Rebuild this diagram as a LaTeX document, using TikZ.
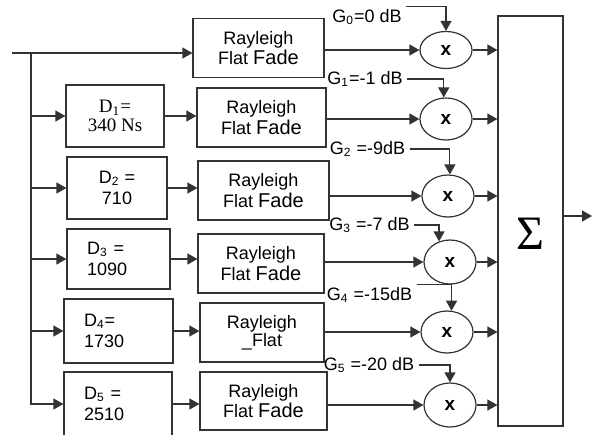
\documentclass[tikz,border=0pt]{standalone}
\usepackage{fontspec}
\setmainfont{Liberation Sans}
\newfontfamily\timesrm{Liberation Serif}
\usetikzlibrary{arrows.meta,shapes.geometric}
\newcommand{\rayfade}{Rayleigh\\Flat {\fontsize{10}{9}\selectfont Fade}}
\begin{document}
\begin{tikzpicture}[x=0.5pt,y=-0.5pt,line width=0.6pt,
  wire/.style={draw=black!80,-{Triangle[length=5pt,width=5.5pt]}},
  fadebox/.style={draw=black!80,minimum height=29.5pt,inner sep=0pt,align=center,font=\fontsize{9}{9}\selectfont},
  delaybox/.style={draw=black!80,inner sep=0pt,align=center,font=\fontsize{9}{10.5}\selectfont},
  leftbox/.style={draw=black!80,inner ysep=0pt,inner xsep=10pt,text width=#1,align=left,font=\fontsize{9}{10.5}\selectfont},
  mult/.style={ellipse,draw=black!80,minimum width=26pt,inner sep=0pt,font=\fontsize{9.5}{9.5}\selectfont\bfseries},
  gain/.style={inner xsep=2pt,inner ysep=1pt,font=\fontsize{9}{9}\selectfont}]
\useasboundingbox (0,0) rectangle (592,434);
\clip (0,0) rectangle (592,434);

\node[fadebox,minimum width=65.5pt] (R0) at (258.5,48) {\rayfade};
\node[fadebox,minimum width=64.5pt] (R1) at (261.5,117.5) {\rayfade};
\node[fadebox,minimum width=65.5pt] (R2) at (263.5,190.5) {\rayfade};
\node[fadebox,minimum width=63pt] (R3) at (261,263.5) {\rayfade};
\node[fadebox,minimum width=62pt] (R4) at (262,332.5) {Rayleigh\\\_Flat};
\node[fadebox,minimum width=63.5pt,minimum height=29pt] (R5) at (263.5,401) {\rayfade};

\node[delaybox,minimum width=49pt,minimum height=31pt,font=\timesrm\fontsize{9.5}{9.5}\selectfont] (D1) at (115,116) {D\textsubscript{1}=\\340 Ns};
\node[delaybox,minimum width=50pt,minimum height=31pt] (D2) at (117,188) {D\textsubscript{2} =\\710};
\node[leftbox=31.5pt,minimum height=30pt] (D3) at (118.5,259) {D\textsubscript{3} =\\1090};
\node[leftbox=34.5pt,minimum height=32pt] (D4) at (118.5,331) {D\textsubscript{4}=\\1730};
\node[leftbox=34pt,minimum height=32pt] (D5) at (118,404) {D\textsubscript{5} =\\2510};

\foreach \k/\x/\y/\h in {0/446/50/18.5,1/446/119/21,2/448/196/21,3/450/262/22,4/447/332/21,5/450/405/22}
  \node[mult,minimum height=\h pt] (M\k) at (\x,\y) {x};

\node[draw=black!80,minimum width=32.5pt,minimum height=205pt,inner sep=0pt,font=\timesrm\fontsize{24}{24}\selectfont] (S) at (530.5,221) {\rule{0pt}{28.5pt}Σ};

\node[gain] (G0) at (367,17) {G\textsubscript{0}=0 dB};
\node[gain] (G1) at (365,79) {G\textsubscript{1}=-1 dB};
\node[gain] (G2) at (367.5,149) {G\textsubscript{2} =-9dB};
\node[gain] (G3) at (369.5,225) {G\textsubscript{3} =-7 dB};
\node[gain] (G4) at (369.5,295) {G\textsubscript{4} =-15dB};
\node[gain] (G5) at (369,365) {G\textsubscript{5} =-20 dB};

\coordinate (in) at (12,53);
\coordinate (bus) at (31,53);
\coordinate (out) at (592,216);

\draw[wire] (in) -- (R0.west |- in);
\draw[wire] (bus) |- (D5.west);
\foreach \k in {1,...,4}
  \draw[wire] (bus |- D\k.west) -- (D\k.west);
\foreach \k in {1,...,5}
  \draw[wire] (D\k.east) -- (D\k.east -| R\k.west);
\foreach \k in {0,...,5} {
  \draw[wire] (M\k.west -| R\k.east) -- (M\k.west);
  \draw[wire] (M\k.east) -- (M\k.east -| S.west);
}
\foreach \k/\a/\b in {0/north east/90,1/east/96,2/east/85,3/east/118,4/north east/78,5/east/90}
  \draw[wire] (G\k.\a) -| (M\k.\b);
\draw[wire] (S.east |- out) -- (out);
\end{tikzpicture}
\end{document}
